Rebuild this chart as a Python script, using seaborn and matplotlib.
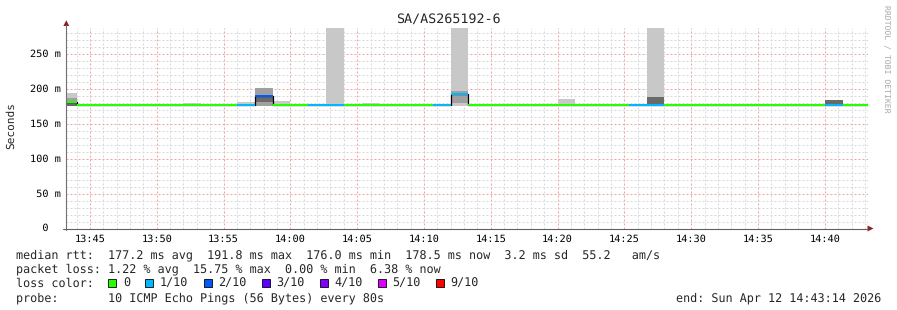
import numpy as np
import pandas as pd
import matplotlib
matplotlib.use("Agg")
import matplotlib.pyplot as plt
import matplotlib.transforms as mtransforms
from matplotlib.patches import Rectangle, Polygon
from matplotlib.lines import Line2D
import seaborn as sns

# ---------------- data ----------------
title = "SA/AS265192-6"
t_start = "13:43:14"
t_end = "14:43:14"
t_first_edge = "13:44:00"
step_seconds = 80
nan = np.nan

# one value per 80 s step (first and last steps are partial)
median_ms = [181.5,
             176.2, 176.2, 176.2, 176.8, 176.8, 176.2, 176.2, 176.8, 176.2, 177.5,
             189.8, 176.2, 176.2, 176.5, 176.5, 176.2, 176.2, 176.2, 176.8, 176.2,
             177.5, 192.5, 176.2, 176.2, 176.2, 176.2, 176.8, 176.2, 176.8, 176.2,
             176.2, 176.5, 176.2, 176.2, 176.2, 176.8, 176.2, 176.2, 176.2, 176.2,
             176.2, 176.2, 177.5, 176.2,
             176.2]
loss_count = [0,
              0, 0, 0, 0, 0, 0, 0, 0, 0, 1,
              2, 0, 0, 1, 1, 0, 0, 0, 0, 0,
              1, 1, 0, 0, 0, 0, 0, 0, 0, 0,
              0, 1, 1, 0, 0, 0, 0, 0, 0, 0,
              0, 0, 1, 0,
              0]
# light smoke (outer pings)
outer_lo = [175.5,
            nan, 176, nan, nan, nan, nan, 176, nan, 176, 175.5,
            nan, 176, nan, nan, 176, nan, 176, nan, nan, nan,
            176, 176, nan, nan, nan, nan, nan, 176, nan, nan,
            nan, 176, 176, nan, nan, nan, 176, nan, nan, nan,
            nan, nan, nan, nan,
            nan]
outer_hi = [194,
            nan, 178.5, nan, nan, nan, nan, 179.5, nan, 179, 181,
            nan, 182.5, nan, nan, 320, nan, 179.5, nan, nan, nan,
            179, 320, nan, nan, nan, nan, nan, 185, nan, nan,
            nan, 178, 320, nan, nan, nan, 178.5, nan, nan, nan,
            nan, nan, nan, nan,
            nan]
# medium smoke
mid_lo = [176,
          nan, nan, nan, nan, nan, nan, nan, nan, nan, nan,
          176, nan, nan, nan, nan, nan, nan, nan, nan, nan,
          nan, 180, nan, nan, nan, nan, nan, nan, nan, nan,
          nan, nan, nan, nan, nan, nan, nan, nan, nan, nan,
          nan, nan, nan, nan,
          nan]
mid_hi = [187,
          nan, nan, nan, nan, nan, nan, nan, nan, nan, nan,
          201, nan, nan, nan, nan, nan, nan, nan, nan, nan,
          nan, 197, nan, nan, nan, nan, nan, nan, nan, nan,
          nan, nan, nan, nan, nan, nan, nan, nan, nan, nan,
          nan, nan, nan, nan,
          nan]
# dark smoke (pings nearest the median)
core_lo = [175.5,
           nan, nan, nan, nan, nan, nan, nan, nan, nan, nan,
           181, nan, nan, nan, nan, nan, nan, nan, nan, nan,
           nan, nan, nan, nan, nan, nan, nan, nan, nan, nan,
           nan, nan, 176, nan, nan, nan, nan, nan, nan, nan,
           nan, nan, 179, nan,
           nan]
core_hi = [180,
           nan, nan, nan, nan, nan, nan, nan, nan, nan, nan,
           189, nan, nan, nan, nan, nan, nan, nan, nan, nan,
           nan, nan, nan, nan, nan, nan, nan, nan, nan, nan,
           nan, nan, 189, nan, nan, nan, nan, nan, nan, nan,
           nan, nan, 183.5, nan,
           nan]

xtick_labels = ["13:45", "13:50", "13:55", "14:00", "14:05", "14:10",
                "14:15", "14:20", "14:25", "14:30", "14:35", "14:40"]
ytick_values = [0, 50, 100, 150, 200, 250]
ytick_labels = ["  0", " 50 m", "100 m", "150 m", "200 m", "250 m"]
y_max = 287.2

loss_legend_counts = [0, 1, 2, 3, 4, 5, 9]
loss_legend_labels = ["0", "1/10", "2/10", "3/10", "4/10", "5/10", "9/10"]
loss_legend_colors = ["#26ff00", "#00b8ff", "#0059ff", "#5e00ff", "#7e00ff", "#dd00ff", "#ff0000"]

stats_rtt = "median rtt:  177.2 ms avg  191.8 ms max  176.0 ms min  178.5 ms now  3.2 ms sd  55.2   am/s"
stats_loss = "packet loss: 1.22 % avg  15.75 % max  0.00 % min  6.38 % now"
loss_title = "loss color:"
probe_text = "probe:       10 ICMP Echo Pings (56 Bytes) every 80s"
end_text = "end: Sun Apr 12 14:43:14 2026"
y_label = "Seconds"
watermark = "RRDTOOL / TOBI OETIKER"

# ---------------- layout ----------------
W, H, DPI = 897, 310, 100
MONO = "DejaVu Sans Mono"
sns.set_theme(style="white")
plt.rcParams["font.family"] = [MONO, "DejaVu Sans"]
plt.rcParams["text.hinting"] = "no_hinting"

fig = plt.figure(figsize=(W / DPI, H / DPI), dpi=DPI, facecolor="white")
ax_l, ax_r, ax_t, ax_b = 66.3, 868.0, 28.0, 228.5
ax = fig.add_axes([ax_l / W, 1 - ax_b / H, (ax_r - ax_l) / W, (ax_b - ax_t) / H])
ax.set_facecolor("white")


def fx(x):
    return x / W


def fy(y):
    return 1 - y / H


day = "2026-04-12 "
t0 = pd.Timestamp(day + t_start)


def minutes(s):
    return (pd.Timestamp(day + s) - t0).total_seconds() / 60.0


x_end = minutes(t_end)
first = minutes(t_first_edge)
n = len(median_ms)
edges = np.concatenate([[0.0], first + np.arange(n - 1) * step_seconds / 60.0, [x_end]])
lefts = edges[:-1]
widths = np.diff(edges)

ax.set_xlim(0, x_end)
ax.set_ylim(0, y_max)

# grid
minor_x = first + np.arange(0, 60)
minor_x = minor_x[minor_x < x_end]
major_x = [minutes(s + ":00") for s in xtick_labels]
ax.set_xticks(major_x, labels=xtick_labels)
ax.set_xticks(minor_x, minor=True)
ax.set_yticks(ytick_values, labels=[""] * len(ytick_values))
ax.set_yticks(np.arange(10, 290, 10), minor=True)
ax.grid(which="minor", color="#d8d8d8", lw=0.72, ls=(0, (2, 2)), zorder=0)
ax.grid(which="major", color="#f2a0a0", lw=0.72, ls=(0, (2, 2)), zorder=0.5)
ax.set_axisbelow(True)
ax.tick_params(axis="x", which="both", length=0, pad=4.0, labelsize=7.4, labelcolor="#000000")
ax.tick_params(axis="y", which="both", length=0)
for lab in ax.get_xticklabels():
    lab.set_fontfamily(MONO)
for s in ax.spines.values():
    s.set_visible(False)

# smoke
def band(lo, hi, color):
    lo = np.asarray(lo, float)
    hi = np.asarray(hi, float)
    m = ~np.isnan(lo)
    ax.bar(lefts[m], hi[m] - lo[m], width=widths[m], bottom=lo[m], align="edge",
           color=color, linewidth=0, zorder=2)


band(outer_lo, outer_hi, "#c8c8c8")
band(mid_lo, mid_hi, "#a0a0a0")
band(core_lo, core_hi, "#6a6a6a")

# median line (black step connectors) + loss-coloured segments
df = pd.DataFrame({"t": edges, "median": np.append(median_ms, median_ms[-1])})
sns.lineplot(data=df, x="t", y="median", drawstyle="steps-post", color="black",
             lw=0.9, ax=ax, zorder=3, estimator=None)
cmap = dict(zip(loss_legend_counts, loss_legend_colors))
ax.hlines(median_ms, lefts, edges[1:], colors=[cmap[c] for c in loss_count], lw=1.44, zorder=4)
ax.set_xlabel("")
ax.set_ylabel("")

# y tick labels
ytrans = mtransforms.blended_transform_factory(fig.transFigure, ax.transData)
for v, lab in zip(ytick_values, ytick_labels):
    ax.text(fx(30), v, lab, transform=ytrans, ha="left", va="center", fontsize=7.4,
            family=MONO, color="#000000", clip_on=False)

# axis lines and arrows
fig.add_artist(Line2D([fx(ax_l), fx(ax_l)], [fy(229.5), fy(25)], color="#707070", lw=0.8))
fig.add_artist(Line2D([fx(63), fx(868)], [fy(ax_b), fy(ax_b)], color="#606060", lw=0.8))
arrow_c = "#8f1f1f"
fig.add_artist(Polygon([(fx(63.3), fy(26)), (fx(69.3), fy(26)), (fx(ax_l), fy(20.3))],
                       closed=True, color=arrow_c, lw=0))
fig.add_artist(Polygon([(fx(867.5), fy(ax_b - 3)), (fx(867.5), fy(ax_b + 3)), (fx(873.5), fy(ax_b))],
                       closed=True, color=arrow_c, lw=0))

# titles
fig.text(fx(448.5), fy(19), title, ha="center", va="center", fontsize=9.6, family=MONO)
fig.text(fx(11), fy(126), y_label, ha="center", va="center", rotation=90, fontsize=8.0, family=MONO)
fig.text(fx(886), fy(5), watermark, ha="center", va="top", rotation=270, fontsize=5.9,
         family=MONO, color="#a8a8a8")

# legend text
cw = 7.05
fs = 8.45
x0 = 16
base = [258.3, 272.4, 286.7, 301.2]
fig.text(fx(x0), fy(base[0]), stats_rtt, ha="left", va="baseline", fontsize=fs, family=MONO)
fig.text(fx(x0), fy(base[1]), stats_loss, ha="left", va="baseline", fontsize=fs, family=MONO)
fig.text(fx(x0), fy(base[2]), loss_title, ha="left", va="baseline", fontsize=fs, family=MONO)
fig.text(fx(x0), fy(base[3]), probe_text, ha="left", va="baseline", fontsize=fs, family=MONO)
fig.text(fx(881), fy(base[3]), end_text, ha="right", va="baseline", fontsize=fs, family=MONO)

pos = 13.0
for lab, col in zip(loss_legend_labels, loss_legend_colors):
    bx = x0 + (pos + 0.1) * cw
    fig.add_artist(Rectangle((fx(bx), fy(287)), 8 / W, 8 / H, facecolor=col,
                             edgecolor="#000000", lw=0.6))
    lx = pos + 2.15
    fig.text(fx(x0 + lx * cw), fy(base[2]), lab, ha="left", va="baseline", fontsize=fs, family=MONO)
    pos = lx + len(lab) + 2.1

fig.savefig("out.png", dpi=DPI, facecolor="white")
